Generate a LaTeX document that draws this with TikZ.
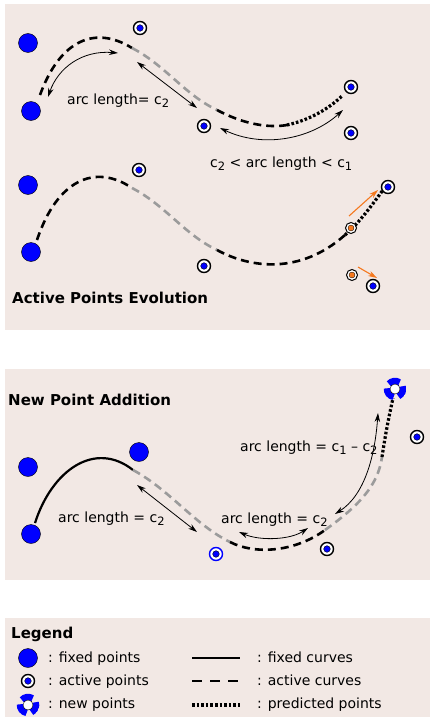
\documentclass[tikz,border=0pt]{standalone}
\usepackage{fontspec}
\setmainfont{DejaVu Sans}
\usetikzlibrary{arrows.meta}
\definecolor{panelbg}{RGB}{242,232,228}
\definecolor{curvegray}{RGB}{155,155,155}
\definecolor{movorange}{RGB}{245,120,30}
\newcommand{\idx}[1]{\raisebox{-0.45ex}{\fontsize{11.5}{12}\selectfont #1}}
\tikzset{
  fixpt/.style={circle, draw=black, line width=0.4pt, fill=blue, minimum size=19pt, inner sep=0pt},
  actpt/.style={circle, draw=black, line width=1.4pt, fill=white, minimum size=13pt, inner sep=0pt,
    path picture={\filldraw[fill=blue, draw=black, line width=0.4pt] (path picture bounding box.center) circle[radius=3.3pt];}},
  oldpt/.style={circle, draw=black, line width=1pt, fill=white, minimum size=11pt, inner sep=0pt,
    path picture={\filldraw[fill=movorange, draw=black, line width=0.3pt] (path picture bounding box.center) circle[radius=3pt];}},
  newpt/.style={circle, minimum size=23pt, inner sep=0pt,
    path picture={
      \foreach \a in {55,175,295}
        \draw[blue, line width=6.5pt] ([shift={(\a:8pt)}]path picture bounding box.center) arc[start angle=\a, end angle=\a+85, radius=8pt];
      \filldraw[fill=white, draw=black, line width=0.4pt] (path picture bounding box.center) circle[radius=5pt];}},
  actcurve/.style={line width=2.6pt, dash pattern=on 8pt off 5pt},
  graycurve/.style={actcurve, curvegray},
  fixcurve/.style={line width=2.2pt},
  predcurve/.style={line width=3.2pt, dash pattern=on 2.6pt off 2pt},
  measure/.style={{Stealth[length=9pt,width=5.5pt]}-{Stealth[length=9pt,width=5.5pt]}, line width=0.8pt},
  move/.style={-{Stealth[length=9pt,width=5.5pt]}, movorange, line width=1.1pt},
  lbl/.style={font=\fontsize{14}{16}\selectfont, inner sep=0pt, anchor=base west},
  ttl/.style={font=\bfseries\fontsize{15}{18}\selectfont, inner sep=0pt, anchor=base west},
}
\begin{document}
\begin{tikzpicture}[x=1pt, y=-1pt]
	\useasboundingbox (0,0) rectangle (430,717);
	% panels
	\fill[panelbg] (5,4) rectangle (430,330);
	\fill[panelbg] (5,369) rectangle (430,580);
	\fill[panelbg] (5,618) rectangle (430,717);
	
	% Active Points Evolution, before
	\coordinate (u0) at (40,95);
	\coordinate (u1) at (132,48);
	\coordinate (u2) at (217,110);
	\coordinate (u3) at (287,125);
	\coordinate (u4) at (343,95);
	\draw[actcurve] (u0) .. controls (60,40) and (95,25) .. (u1);
	\draw[graycurve] (u1) .. controls (165,65) and (185,95) .. (u2);
	\draw[actcurve] (u2) .. controls (245,125) and (270,128) .. (u3);
	\draw[predcurve] (u3) .. controls (310,120) and (330,108) .. (u4);
	
	\node[fixpt] (fa) at (28,43) {};
	\node[fixpt] (fb) at (31,111) {};
	\node[actpt] (ac) at (140,28) {};
	\node[actpt] (ad) at (204,126) {};
	\node[actpt] (ae) at (351,87) {};
	\node[actpt] (af) at (351,133) {};
	
	\coordinate (m1a) at (48,97);
	\coordinate (m1b) at (118,53);
	\coordinate (m2a) at (137,62);
	\coordinate (m2b) at (197,108);
	\coordinate (m3a) at (220,128);
	\coordinate (m3b) at (343,110);
	\draw[measure] (m1a) .. controls (58,68) and (82,50) .. (m1b);
	\draw[measure] (m2a) -- (m2b);
	\draw[measure] (m3a) .. controls (262,148) and (310,140) .. (m3b);
	\node[lbl] (t1) at (67,104) {arc length= c\idx{2}};
	\node[lbl] (t2) at (210,167) {c\idx{2} < arc length < c\idx{1}};
	
	% Active Points Evolution, after
	\coordinate (v0) at (37,240);
	\coordinate (v1) at (132,188);
	\coordinate (v2) at (217,250);
	\coordinate (v3) at (345,235);
	\coordinate (v4) at (383,190);
	\draw[actcurve] (v0) .. controls (57,180) and (95,163) .. (v1);
	\draw[graycurve] (v1) .. controls (165,205) and (185,235) .. (v2);
	\draw[actcurve] (v2) .. controls (250,268) and (300,275) .. (v3);
	\draw[predcurve] (v3) .. controls (360,222) and (372,205) .. (v4);
	
	\node[fixpt] (ga) at (28,185) {};
	\node[fixpt] (gb) at (31,252) {};
	\node[actpt] (gc) at (139,170) {};
	\node[actpt] (gd) at (204,266) {};
	\node[actpt] (ge) at (388,187) {};
	\node[actpt] (gf) at (373,286) {};
	\node[oldpt] (go1) at (351,228) {};
	\node[oldpt] (go2) at (352,275) {};
	
	\coordinate (n1a) at (349,216);
	\coordinate (n1b) at (378,190);
	\coordinate (n2a) at (358,267);
	\coordinate (n2b) at (377,278);
	\draw[move] (n1a) -- (n1b);
	\draw[move] (n2a) -- (n2b);
	\node[ttl] (ttlA) at (12,303) {Active Points Evolution};
	
	% New Point Addition
	\coordinate (w0) at (35,523);
	\coordinate (w1) at (133,470);
	\coordinate (w2) at (230,542);
	\coordinate (w3) at (325,530);
	\coordinate (w4) at (382,457);
	\coordinate (w5) at (393,398);
	\draw[fixcurve] (w0) .. controls (52,470) and (95,440) .. (w1);
	\draw[graycurve] (w1) .. controls (170,490) and (195,525) .. (w2);
	\draw[actcurve] (w2) .. controls (255,555) and (295,552) .. (w3);
	\draw[graycurve] (w3) .. controls (360,505) and (378,485) .. (w4);
	\draw[predcurve] (w4) .. controls (386,430) and (390,412) .. (w5);
	
	\node[fixpt] (ha) at (28,467) {};
	\node[fixpt] (hb) at (139,452) {};
	\node[fixpt] (hc) at (31,534) {};
	\node[newpt] (hn) at (395,389) {};
	\node[actpt] (he) at (417,437) {};
	\node[actpt] (hf) at (327,549) {};
	\node[actpt, draw=blue] (hd) at (216,554) {};
	
	\coordinate (k1a) at (137,485);
	\coordinate (k1b) at (197,532);
	\coordinate (k2a) at (239,532);
	\coordinate (k2b) at (308,528);
	\coordinate (k3a) at (378,413);
	\coordinate (k3b) at (335,514);
	\draw[measure] (k1a) -- (k1b);
	\draw[measure] (k2a) .. controls (260,541) and (290,540) .. (k2b);
	\draw[measure] (k3a) .. controls (375,455) and (365,495) .. (k3b);
	\node[ttl] (ttlB) at (8,405) {New Point Addition};
	\node[lbl] (t3) at (58,522) {arc length = c\idx{2}};
	\node[lbl] (t4) at (221,523) {arc length = c\idx{2}};
	\node[lbl] (t5) at (240,451) {arc length = c\idx{1} – c\idx{2}};
	
	% Legend
	\node[ttl] (ttlC) at (11,638) {Legend};
	\node[fixpt] (lgf) at (28,658) {};
	\node[actpt] (lga) at (28,681) {};
	\node[newpt] (lgn) at (28,705) {};
	\node[lbl] (lt1) at (48,662) {: fixed points};
	\node[lbl] (lt2) at (48,685) {: active points};
	\node[lbl] (lt3) at (48,708) {: new points};
	
	\coordinate (lf1) at (192,658);
	\coordinate (lf2) at (240,658);
	\coordinate (la1) at (192,681);
	\coordinate (la2) at (240,681);
	\coordinate (lp1) at (192,705);
	\coordinate (lp2) at (240,705);
	\draw[fixcurve] (lf1) -- (lf2);
	\draw[line width=2.6pt, dash pattern=on 10pt off 8pt] (la1) -- (la2);
	\draw[predcurve] (lp1) -- (lp2);
	\node[lbl] (lt4) at (257,662) {: fixed curves};
	\node[lbl] (lt5) at (257,685) {: active curves};
	\node[lbl] (lt6) at (257,708) {: predicted points};
\end{tikzpicture}
\end{document}
